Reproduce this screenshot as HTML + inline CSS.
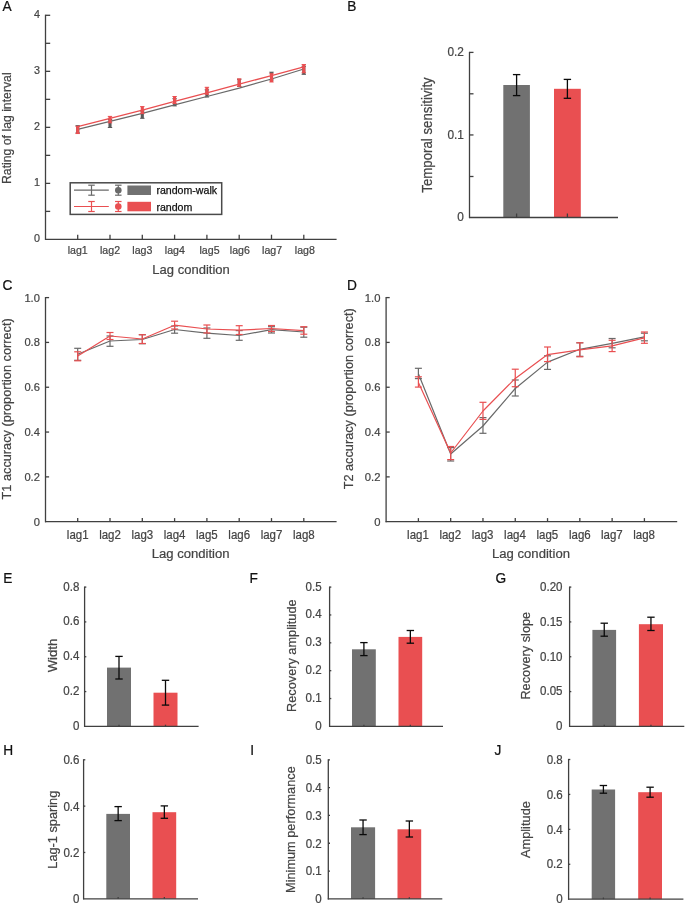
<!DOCTYPE html>
<html lang="en">
<head>
<meta charset="utf-8">
<title>Figure</title>
<style>
html,body{margin:0;padding:0;background:#fff;}
body{width:685px;height:904px;overflow:hidden;}
svg{display:block;font-family:"Liberation Sans", sans-serif;}
</style>
</head>
<body>
<svg width="685" height="904" viewBox="0 0 685 904">
<rect x="0" y="0" width="685" height="904" fill="#ffffff"/>
<text transform="translate(2.60 11.20) scale(0.96 1)" font-size="14.29" text-anchor="start" fill="#111"  stroke="#111" stroke-width="0.22">A</text>
<rect x="76.15" y="125.60" width="3.10" height="7.40" fill="#5a5a5a" stroke="none" stroke-width="1"/>
<line x1="75.50" y1="125.70" x2="79.90" y2="125.70" stroke="#5a5a5a" stroke-width="1.0" />
<line x1="75.50" y1="132.90" x2="79.90" y2="132.90" stroke="#5a5a5a" stroke-width="1.0" />
<rect x="108.45" y="119.40" width="3.10" height="8.20" fill="#5a5a5a" stroke="none" stroke-width="1"/>
<line x1="107.80" y1="119.50" x2="112.20" y2="119.50" stroke="#5a5a5a" stroke-width="1.0" />
<line x1="107.80" y1="127.50" x2="112.20" y2="127.50" stroke="#5a5a5a" stroke-width="1.0" />
<rect x="140.75" y="110.80" width="3.10" height="7.60" fill="#5a5a5a" stroke="none" stroke-width="1"/>
<line x1="140.10" y1="110.90" x2="144.50" y2="110.90" stroke="#5a5a5a" stroke-width="1.0" />
<line x1="140.10" y1="118.30" x2="144.50" y2="118.30" stroke="#5a5a5a" stroke-width="1.0" />
<rect x="173.05" y="98.60" width="3.10" height="7.40" fill="#5a5a5a" stroke="none" stroke-width="1"/>
<line x1="172.40" y1="98.70" x2="176.80" y2="98.70" stroke="#5a5a5a" stroke-width="1.0" />
<line x1="172.40" y1="105.90" x2="176.80" y2="105.90" stroke="#5a5a5a" stroke-width="1.0" />
<rect x="205.35" y="89.70" width="3.10" height="7.40" fill="#5a5a5a" stroke="none" stroke-width="1"/>
<line x1="204.70" y1="89.80" x2="209.10" y2="89.80" stroke="#5a5a5a" stroke-width="1.0" />
<line x1="204.70" y1="97.00" x2="209.10" y2="97.00" stroke="#5a5a5a" stroke-width="1.0" />
<rect x="237.65" y="79.20" width="3.10" height="7.40" fill="#5a5a5a" stroke="none" stroke-width="1"/>
<line x1="237.00" y1="79.30" x2="241.40" y2="79.30" stroke="#5a5a5a" stroke-width="1.0" />
<line x1="237.00" y1="86.50" x2="241.40" y2="86.50" stroke="#5a5a5a" stroke-width="1.0" />
<rect x="269.95" y="72.10" width="3.10" height="8.00" fill="#5a5a5a" stroke="none" stroke-width="1"/>
<line x1="269.30" y1="72.20" x2="273.70" y2="72.20" stroke="#5a5a5a" stroke-width="1.0" />
<line x1="269.30" y1="80.00" x2="273.70" y2="80.00" stroke="#5a5a5a" stroke-width="1.0" />
<rect x="302.25" y="66.20" width="3.10" height="8.20" fill="#5a5a5a" stroke="none" stroke-width="1"/>
<line x1="301.60" y1="66.30" x2="306.00" y2="66.30" stroke="#5a5a5a" stroke-width="1.0" />
<line x1="301.60" y1="74.30" x2="306.00" y2="74.30" stroke="#5a5a5a" stroke-width="1.0" />
<polyline points="77.70,129.30 110.00,121.40 142.30,113.30 174.60,104.90 206.90,96.50 239.20,88.10 271.50,79.00 303.80,69.00" fill="none" stroke="#696969" stroke-width="1.25" stroke-linejoin="round"/>
<rect x="76.15" y="126.25" width="3.10" height="7.40" fill="#e94f51" stroke="none" stroke-width="1"/>
<line x1="75.50" y1="126.35" x2="79.90" y2="126.35" stroke="#e94f51" stroke-width="1.0" />
<line x1="75.50" y1="133.55" x2="79.90" y2="133.55" stroke="#e94f51" stroke-width="1.0" />
<rect x="108.45" y="116.30" width="3.10" height="6.60" fill="#e94f51" stroke="none" stroke-width="1"/>
<line x1="107.80" y1="116.40" x2="112.20" y2="116.40" stroke="#e94f51" stroke-width="1.0" />
<line x1="107.80" y1="122.80" x2="112.20" y2="122.80" stroke="#e94f51" stroke-width="1.0" />
<rect x="140.75" y="106.50" width="3.10" height="7.20" fill="#e94f51" stroke="none" stroke-width="1"/>
<line x1="140.10" y1="106.60" x2="144.50" y2="106.60" stroke="#e94f51" stroke-width="1.0" />
<line x1="140.10" y1="113.60" x2="144.50" y2="113.60" stroke="#e94f51" stroke-width="1.0" />
<rect x="173.05" y="96.40" width="3.10" height="7.20" fill="#e94f51" stroke="none" stroke-width="1"/>
<line x1="172.40" y1="96.50" x2="176.80" y2="96.50" stroke="#e94f51" stroke-width="1.0" />
<line x1="172.40" y1="103.50" x2="176.80" y2="103.50" stroke="#e94f51" stroke-width="1.0" />
<rect x="205.35" y="87.20" width="3.10" height="7.20" fill="#e94f51" stroke="none" stroke-width="1"/>
<line x1="204.70" y1="87.30" x2="209.10" y2="87.30" stroke="#e94f51" stroke-width="1.0" />
<line x1="204.70" y1="94.30" x2="209.10" y2="94.30" stroke="#e94f51" stroke-width="1.0" />
<rect x="237.65" y="78.80" width="3.10" height="7.60" fill="#e94f51" stroke="none" stroke-width="1"/>
<line x1="237.00" y1="78.90" x2="241.40" y2="78.90" stroke="#e94f51" stroke-width="1.0" />
<line x1="237.00" y1="86.30" x2="241.40" y2="86.30" stroke="#e94f51" stroke-width="1.0" />
<rect x="269.95" y="73.65" width="3.10" height="8.40" fill="#e94f51" stroke="none" stroke-width="1"/>
<line x1="269.30" y1="73.75" x2="273.70" y2="73.75" stroke="#e94f51" stroke-width="1.0" />
<line x1="269.30" y1="81.95" x2="273.70" y2="81.95" stroke="#e94f51" stroke-width="1.0" />
<rect x="302.25" y="64.45" width="3.10" height="8.40" fill="#e94f51" stroke="none" stroke-width="1"/>
<line x1="301.60" y1="64.55" x2="306.00" y2="64.55" stroke="#e94f51" stroke-width="1.0" />
<line x1="301.60" y1="72.75" x2="306.00" y2="72.75" stroke="#e94f51" stroke-width="1.0" />
<polyline points="77.70,126.60 110.00,118.40 142.30,110.10 174.60,101.40 206.90,92.90 239.20,84.20 271.50,75.60 303.80,66.90" fill="none" stroke="#e94f51" stroke-width="1.25" stroke-linejoin="round"/>
<line x1="45.50" y1="14.70" x2="45.50" y2="240.00" stroke="#404040" stroke-width="1.3" />
<text transform="translate(39.90 242.40) scale(0.96 1)" font-size="11.22" text-anchor="end" fill="#444444"  stroke="#444444" stroke-width="0.22">0</text>
<line x1="45.50" y1="183.38" x2="50.20" y2="183.38" stroke="#404040" stroke-width="1.3" />
<text transform="translate(39.90 186.38) scale(0.96 1)" font-size="11.22" text-anchor="end" fill="#444444"  stroke="#444444" stroke-width="0.22">1</text>
<line x1="45.50" y1="127.35" x2="50.20" y2="127.35" stroke="#404040" stroke-width="1.3" />
<text transform="translate(39.90 130.35) scale(0.96 1)" font-size="11.22" text-anchor="end" fill="#444444"  stroke="#444444" stroke-width="0.22">2</text>
<line x1="45.50" y1="71.33" x2="50.20" y2="71.33" stroke="#404040" stroke-width="1.3" />
<text transform="translate(39.90 74.33) scale(0.96 1)" font-size="11.22" text-anchor="end" fill="#444444"  stroke="#444444" stroke-width="0.22">3</text>
<line x1="45.50" y1="15.30" x2="50.20" y2="15.30" stroke="#404040" stroke-width="1.3" />
<text transform="translate(39.90 18.30) scale(0.96 1)" font-size="11.22" text-anchor="end" fill="#444444"  stroke="#444444" stroke-width="0.22">4</text>
<line x1="45.50" y1="211.39" x2="50.20" y2="211.39" stroke="#404040" stroke-width="1.3" />
<line x1="45.50" y1="155.36" x2="50.20" y2="155.36" stroke="#404040" stroke-width="1.3" />
<line x1="45.50" y1="99.34" x2="50.20" y2="99.34" stroke="#404040" stroke-width="1.3" />
<line x1="45.50" y1="43.31" x2="50.20" y2="43.31" stroke="#404040" stroke-width="1.3" />
<text transform="translate(11.20 128.20) rotate(-90) scale(0.96 1)" font-size="12.76" text-anchor="middle" fill="#444444"  stroke="#444444" stroke-width="0.22">Rating of lag interval</text>
<line x1="45.00" y1="239.40" x2="336.60" y2="239.40" stroke="#404040" stroke-width="1.3" />
<line x1="77.70" y1="239.40" x2="77.70" y2="234.70" stroke="#404040" stroke-width="1.3" />
<text transform="translate(77.70 253.70) scale(0.95 1)" font-size="11.18" text-anchor="middle" fill="#444444"  stroke="#444444" stroke-width="0.22">lag1</text>
<line x1="110.00" y1="239.40" x2="110.00" y2="234.70" stroke="#404040" stroke-width="1.3" />
<text transform="translate(110.00 253.70) scale(0.95 1)" font-size="11.18" text-anchor="middle" fill="#444444"  stroke="#444444" stroke-width="0.22">lag2</text>
<line x1="142.30" y1="239.40" x2="142.30" y2="234.70" stroke="#404040" stroke-width="1.3" />
<text transform="translate(142.30 253.70) scale(0.95 1)" font-size="11.18" text-anchor="middle" fill="#444444"  stroke="#444444" stroke-width="0.22">lag3</text>
<line x1="174.60" y1="239.40" x2="174.60" y2="234.70" stroke="#404040" stroke-width="1.3" />
<text transform="translate(174.80 253.70) scale(0.95 1)" font-size="11.18" text-anchor="middle" fill="#444444"  stroke="#444444" stroke-width="0.22">lag4</text>
<line x1="206.90" y1="239.40" x2="206.90" y2="234.70" stroke="#404040" stroke-width="1.3" />
<text transform="translate(209.50 253.70) scale(0.95 1)" font-size="11.18" text-anchor="middle" fill="#444444"  stroke="#444444" stroke-width="0.22">lag5</text>
<line x1="239.20" y1="239.40" x2="239.20" y2="234.70" stroke="#404040" stroke-width="1.3" />
<text transform="translate(239.80 253.70) scale(0.95 1)" font-size="11.18" text-anchor="middle" fill="#444444"  stroke="#444444" stroke-width="0.22">lag6</text>
<line x1="271.50" y1="239.40" x2="271.50" y2="234.70" stroke="#404040" stroke-width="1.3" />
<text transform="translate(272.10 253.70) scale(0.95 1)" font-size="11.18" text-anchor="middle" fill="#444444"  stroke="#444444" stroke-width="0.22">lag7</text>
<line x1="303.80" y1="239.40" x2="303.80" y2="234.70" stroke="#404040" stroke-width="1.3" />
<text transform="translate(304.80 253.70) scale(0.95 1)" font-size="11.18" text-anchor="middle" fill="#444444"  stroke="#444444" stroke-width="0.22">lag8</text>
<text transform="translate(191.05 274.30) scale(0.96 1)" font-size="13.57" text-anchor="middle" fill="#444444"  stroke="#444444" stroke-width="0.22">Lag condition</text>
<rect x="70.20" y="182.80" width="151.50" height="31.60" fill="#fff" stroke="#4a4a4a" stroke-width="1.5"/>
<line x1="74.00" y1="190.20" x2="108.80" y2="190.20" stroke="#696969" stroke-width="1.2" />
<line x1="91.50" y1="185.20" x2="91.50" y2="195.20" stroke="#696969" stroke-width="1.2" />
<line x1="88.25" y1="185.20" x2="94.75" y2="185.20" stroke="#696969" stroke-width="1.2" />
<line x1="88.25" y1="195.20" x2="94.75" y2="195.20" stroke="#696969" stroke-width="1.2" />
<line x1="118.30" y1="185.20" x2="118.30" y2="195.20" stroke="#696969" stroke-width="1.2" />
<line x1="115.05" y1="185.20" x2="121.55" y2="185.20" stroke="#696969" stroke-width="1.2" />
<line x1="115.05" y1="195.20" x2="121.55" y2="195.20" stroke="#696969" stroke-width="1.2" />
<circle cx="118.3" cy="190.20" r="3.3" fill="#696969"/>
<rect x="127.40" y="185.50" width="23.60" height="9.50" fill="#717171" stroke="none" stroke-width="1"/>
<text transform="translate(156.40 194.30)" font-size="10.6" text-anchor="start" fill="#111" stroke="#111" stroke-width="0.25">random-walk</text>
<line x1="74.00" y1="206.50" x2="108.80" y2="206.50" stroke="#e94f51" stroke-width="1.2" />
<line x1="91.50" y1="201.50" x2="91.50" y2="211.50" stroke="#e94f51" stroke-width="1.2" />
<line x1="88.25" y1="201.50" x2="94.75" y2="201.50" stroke="#e94f51" stroke-width="1.2" />
<line x1="88.25" y1="211.50" x2="94.75" y2="211.50" stroke="#e94f51" stroke-width="1.2" />
<line x1="118.30" y1="201.50" x2="118.30" y2="211.50" stroke="#e94f51" stroke-width="1.2" />
<line x1="115.05" y1="201.50" x2="121.55" y2="201.50" stroke="#e94f51" stroke-width="1.2" />
<line x1="115.05" y1="211.50" x2="121.55" y2="211.50" stroke="#e94f51" stroke-width="1.2" />
<circle cx="118.3" cy="206.50" r="3.3" fill="#e94f51"/>
<rect x="127.40" y="201.80" width="23.60" height="9.50" fill="#e94f51" stroke="none" stroke-width="1"/>
<text transform="translate(156.40 211.00)" font-size="10.6" text-anchor="start" fill="#111" stroke="#111" stroke-width="0.25">random</text>
<text transform="translate(2.60 289.90) scale(0.96 1)" font-size="14.29" text-anchor="start" fill="#111"  stroke="#111" stroke-width="0.22">C</text>
<polyline points="77.70,354.30 110.00,341.00 142.30,339.50 174.60,329.50 206.90,333.20 239.20,335.50 271.50,329.70 303.80,332.00" fill="none" stroke="#696969" stroke-width="1.2" stroke-linejoin="round"/>
<line x1="77.70" y1="348.30" x2="77.70" y2="360.30" stroke="#696969" stroke-width="1.2" />
<line x1="74.20" y1="348.30" x2="81.20" y2="348.30" stroke="#696969" stroke-width="1.2" />
<line x1="74.20" y1="360.30" x2="81.20" y2="360.30" stroke="#696969" stroke-width="1.2" />
<line x1="110.00" y1="336.00" x2="110.00" y2="346.30" stroke="#696969" stroke-width="1.2" />
<line x1="106.50" y1="336.00" x2="113.50" y2="336.00" stroke="#696969" stroke-width="1.2" />
<line x1="106.50" y1="346.30" x2="113.50" y2="346.30" stroke="#696969" stroke-width="1.2" />
<line x1="142.30" y1="334.70" x2="142.30" y2="343.70" stroke="#696969" stroke-width="1.2" />
<line x1="138.80" y1="334.70" x2="145.80" y2="334.70" stroke="#696969" stroke-width="1.2" />
<line x1="138.80" y1="343.70" x2="145.80" y2="343.70" stroke="#696969" stroke-width="1.2" />
<line x1="174.60" y1="326.00" x2="174.60" y2="333.20" stroke="#696969" stroke-width="1.2" />
<line x1="171.10" y1="326.00" x2="178.10" y2="326.00" stroke="#696969" stroke-width="1.2" />
<line x1="171.10" y1="333.20" x2="178.10" y2="333.20" stroke="#696969" stroke-width="1.2" />
<line x1="206.90" y1="328.00" x2="206.90" y2="338.30" stroke="#696969" stroke-width="1.2" />
<line x1="203.40" y1="328.00" x2="210.40" y2="328.00" stroke="#696969" stroke-width="1.2" />
<line x1="203.40" y1="338.30" x2="210.40" y2="338.30" stroke="#696969" stroke-width="1.2" />
<line x1="239.20" y1="330.60" x2="239.20" y2="340.30" stroke="#696969" stroke-width="1.2" />
<line x1="235.70" y1="330.60" x2="242.70" y2="330.60" stroke="#696969" stroke-width="1.2" />
<line x1="235.70" y1="340.30" x2="242.70" y2="340.30" stroke="#696969" stroke-width="1.2" />
<line x1="271.50" y1="326.70" x2="271.50" y2="333.00" stroke="#696969" stroke-width="1.2" />
<line x1="268.00" y1="326.70" x2="275.00" y2="326.70" stroke="#696969" stroke-width="1.2" />
<line x1="268.00" y1="333.00" x2="275.00" y2="333.00" stroke="#696969" stroke-width="1.2" />
<line x1="303.80" y1="327.20" x2="303.80" y2="337.20" stroke="#696969" stroke-width="1.2" />
<line x1="300.30" y1="327.20" x2="307.30" y2="327.20" stroke="#696969" stroke-width="1.2" />
<line x1="300.30" y1="337.20" x2="307.30" y2="337.20" stroke="#696969" stroke-width="1.2" />
<polyline points="77.70,356.10 110.00,336.00 142.30,339.00 174.60,325.20 206.90,329.00 239.20,330.20 271.50,328.50 303.80,330.70" fill="none" stroke="#e94f51" stroke-width="1.2" stroke-linejoin="round"/>
<line x1="77.70" y1="351.80" x2="77.70" y2="360.80" stroke="#e94f51" stroke-width="1.2" />
<line x1="74.20" y1="351.80" x2="81.20" y2="351.80" stroke="#e94f51" stroke-width="1.2" />
<line x1="74.20" y1="360.80" x2="81.20" y2="360.80" stroke="#e94f51" stroke-width="1.2" />
<line x1="110.00" y1="332.50" x2="110.00" y2="339.50" stroke="#e94f51" stroke-width="1.2" />
<line x1="106.50" y1="332.50" x2="113.50" y2="332.50" stroke="#e94f51" stroke-width="1.2" />
<line x1="106.50" y1="339.50" x2="113.50" y2="339.50" stroke="#e94f51" stroke-width="1.2" />
<line x1="142.30" y1="334.70" x2="142.30" y2="343.50" stroke="#e94f51" stroke-width="1.2" />
<line x1="138.80" y1="334.70" x2="145.80" y2="334.70" stroke="#e94f51" stroke-width="1.2" />
<line x1="138.80" y1="343.50" x2="145.80" y2="343.50" stroke="#e94f51" stroke-width="1.2" />
<line x1="174.60" y1="321.20" x2="174.60" y2="329.00" stroke="#e94f51" stroke-width="1.2" />
<line x1="171.10" y1="321.20" x2="178.10" y2="321.20" stroke="#e94f51" stroke-width="1.2" />
<line x1="171.10" y1="329.00" x2="178.10" y2="329.00" stroke="#e94f51" stroke-width="1.2" />
<line x1="206.90" y1="325.00" x2="206.90" y2="333.00" stroke="#e94f51" stroke-width="1.2" />
<line x1="203.40" y1="325.00" x2="210.40" y2="325.00" stroke="#e94f51" stroke-width="1.2" />
<line x1="203.40" y1="333.00" x2="210.40" y2="333.00" stroke="#e94f51" stroke-width="1.2" />
<line x1="239.20" y1="325.70" x2="239.20" y2="334.50" stroke="#e94f51" stroke-width="1.2" />
<line x1="235.70" y1="325.70" x2="242.70" y2="325.70" stroke="#e94f51" stroke-width="1.2" />
<line x1="235.70" y1="334.50" x2="242.70" y2="334.50" stroke="#e94f51" stroke-width="1.2" />
<line x1="271.50" y1="325.50" x2="271.50" y2="331.50" stroke="#e94f51" stroke-width="1.2" />
<line x1="268.00" y1="325.50" x2="275.00" y2="325.50" stroke="#e94f51" stroke-width="1.2" />
<line x1="268.00" y1="331.50" x2="275.00" y2="331.50" stroke="#e94f51" stroke-width="1.2" />
<line x1="303.80" y1="326.70" x2="303.80" y2="334.20" stroke="#e94f51" stroke-width="1.2" />
<line x1="300.30" y1="326.70" x2="307.30" y2="326.70" stroke="#e94f51" stroke-width="1.2" />
<line x1="300.30" y1="334.20" x2="307.30" y2="334.20" stroke="#e94f51" stroke-width="1.2" />
<line x1="45.50" y1="297.00" x2="45.50" y2="522.30" stroke="#404040" stroke-width="1.3" />
<text transform="translate(39.90 525.70) scale(0.96 1)" font-size="11.63" text-anchor="end" fill="#444444"  stroke="#444444" stroke-width="0.22">0</text>
<line x1="45.50" y1="476.88" x2="49.10" y2="476.88" stroke="#404040" stroke-width="1.3" />
<text transform="translate(39.90 480.88) scale(0.96 1)" font-size="11.63" text-anchor="end" fill="#444444"  stroke="#444444" stroke-width="0.22">0.2</text>
<line x1="45.50" y1="432.06" x2="49.10" y2="432.06" stroke="#404040" stroke-width="1.3" />
<text transform="translate(39.90 436.06) scale(0.96 1)" font-size="11.63" text-anchor="end" fill="#444444"  stroke="#444444" stroke-width="0.22">0.4</text>
<line x1="45.50" y1="387.24" x2="49.10" y2="387.24" stroke="#404040" stroke-width="1.3" />
<text transform="translate(39.90 391.24) scale(0.96 1)" font-size="11.63" text-anchor="end" fill="#444444"  stroke="#444444" stroke-width="0.22">0.6</text>
<line x1="45.50" y1="342.42" x2="49.10" y2="342.42" stroke="#404040" stroke-width="1.3" />
<text transform="translate(39.90 346.42) scale(0.96 1)" font-size="11.63" text-anchor="end" fill="#444444"  stroke="#444444" stroke-width="0.22">0.8</text>
<line x1="45.50" y1="297.60" x2="49.10" y2="297.60" stroke="#404040" stroke-width="1.3" />
<text transform="translate(39.90 301.60) scale(0.96 1)" font-size="11.63" text-anchor="end" fill="#444444"  stroke="#444444" stroke-width="0.22">1.0</text>
<text transform="translate(10.90 408.90) rotate(-90) scale(0.96 1)" font-size="13.27" text-anchor="middle" fill="#444444"  stroke="#444444" stroke-width="0.22">T1 accuracy (proportion correct)</text>
<line x1="45.00" y1="521.70" x2="336.60" y2="521.70" stroke="#404040" stroke-width="1.3" />
<line x1="77.70" y1="521.70" x2="77.70" y2="518.10" stroke="#404040" stroke-width="1.3" />
<text transform="translate(77.70 538.80) scale(0.95 1)" font-size="12.1" text-anchor="middle" fill="#444444"  stroke="#444444" stroke-width="0.22">lag1</text>
<line x1="110.00" y1="521.70" x2="110.00" y2="518.10" stroke="#404040" stroke-width="1.3" />
<text transform="translate(110.00 538.80) scale(0.95 1)" font-size="12.1" text-anchor="middle" fill="#444444"  stroke="#444444" stroke-width="0.22">lag2</text>
<line x1="142.30" y1="521.70" x2="142.30" y2="518.10" stroke="#404040" stroke-width="1.3" />
<text transform="translate(142.30 538.80) scale(0.95 1)" font-size="12.1" text-anchor="middle" fill="#444444"  stroke="#444444" stroke-width="0.22">lag3</text>
<line x1="174.60" y1="521.70" x2="174.60" y2="518.10" stroke="#404040" stroke-width="1.3" />
<text transform="translate(174.60 538.80) scale(0.95 1)" font-size="12.1" text-anchor="middle" fill="#444444"  stroke="#444444" stroke-width="0.22">lag4</text>
<line x1="206.90" y1="521.70" x2="206.90" y2="518.10" stroke="#404040" stroke-width="1.3" />
<text transform="translate(206.90 538.80) scale(0.95 1)" font-size="12.1" text-anchor="middle" fill="#444444"  stroke="#444444" stroke-width="0.22">lag5</text>
<line x1="239.20" y1="521.70" x2="239.20" y2="518.10" stroke="#404040" stroke-width="1.3" />
<text transform="translate(239.20 538.80) scale(0.95 1)" font-size="12.1" text-anchor="middle" fill="#444444"  stroke="#444444" stroke-width="0.22">lag6</text>
<line x1="271.50" y1="521.70" x2="271.50" y2="518.10" stroke="#404040" stroke-width="1.3" />
<text transform="translate(271.50 538.80) scale(0.95 1)" font-size="12.1" text-anchor="middle" fill="#444444"  stroke="#444444" stroke-width="0.22">lag7</text>
<line x1="303.80" y1="521.70" x2="303.80" y2="518.10" stroke="#404040" stroke-width="1.3" />
<text transform="translate(303.80 538.80) scale(0.95 1)" font-size="12.1" text-anchor="middle" fill="#444444"  stroke="#444444" stroke-width="0.22">lag8</text>
<text transform="translate(190.60 558.20) scale(0.96 1)" font-size="13.67" text-anchor="middle" fill="#444444"  stroke="#444444" stroke-width="0.22">Lag condition</text>
<text transform="translate(347.00 289.90) scale(0.96 1)" font-size="14.29" text-anchor="start" fill="#111"  stroke="#111" stroke-width="0.22">D</text>
<polyline points="418.39,373.80 450.68,454.00 482.97,426.00 515.26,388.50 547.54,362.10 579.83,349.30 612.12,343.30 644.41,336.80" fill="none" stroke="#696969" stroke-width="1.2" stroke-linejoin="round"/>
<line x1="418.39" y1="368.30" x2="418.39" y2="378.60" stroke="#696969" stroke-width="1.2" />
<line x1="414.89" y1="368.30" x2="421.89" y2="368.30" stroke="#696969" stroke-width="1.2" />
<line x1="414.89" y1="378.60" x2="421.89" y2="378.60" stroke="#696969" stroke-width="1.2" />
<line x1="450.68" y1="447.60" x2="450.68" y2="461.00" stroke="#696969" stroke-width="1.2" />
<line x1="447.18" y1="447.60" x2="454.18" y2="447.60" stroke="#696969" stroke-width="1.2" />
<line x1="447.18" y1="461.00" x2="454.18" y2="461.00" stroke="#696969" stroke-width="1.2" />
<line x1="482.97" y1="417.60" x2="482.97" y2="433.30" stroke="#696969" stroke-width="1.2" />
<line x1="479.47" y1="417.60" x2="486.47" y2="417.60" stroke="#696969" stroke-width="1.2" />
<line x1="479.47" y1="433.30" x2="486.47" y2="433.30" stroke="#696969" stroke-width="1.2" />
<line x1="515.26" y1="380.00" x2="515.26" y2="396.00" stroke="#696969" stroke-width="1.2" />
<line x1="511.76" y1="380.00" x2="518.76" y2="380.00" stroke="#696969" stroke-width="1.2" />
<line x1="511.76" y1="396.00" x2="518.76" y2="396.00" stroke="#696969" stroke-width="1.2" />
<line x1="547.54" y1="355.80" x2="547.54" y2="369.40" stroke="#696969" stroke-width="1.2" />
<line x1="544.04" y1="355.80" x2="551.04" y2="355.80" stroke="#696969" stroke-width="1.2" />
<line x1="544.04" y1="369.40" x2="551.04" y2="369.40" stroke="#696969" stroke-width="1.2" />
<line x1="579.83" y1="342.80" x2="579.83" y2="356.30" stroke="#696969" stroke-width="1.2" />
<line x1="576.33" y1="342.80" x2="583.33" y2="342.80" stroke="#696969" stroke-width="1.2" />
<line x1="576.33" y1="356.30" x2="583.33" y2="356.30" stroke="#696969" stroke-width="1.2" />
<line x1="612.12" y1="338.50" x2="612.12" y2="347.80" stroke="#696969" stroke-width="1.2" />
<line x1="608.62" y1="338.50" x2="615.62" y2="338.50" stroke="#696969" stroke-width="1.2" />
<line x1="608.62" y1="347.80" x2="615.62" y2="347.80" stroke="#696969" stroke-width="1.2" />
<line x1="644.41" y1="333.20" x2="644.41" y2="340.80" stroke="#696969" stroke-width="1.2" />
<line x1="640.91" y1="333.20" x2="647.91" y2="333.20" stroke="#696969" stroke-width="1.2" />
<line x1="640.91" y1="340.80" x2="647.91" y2="340.80" stroke="#696969" stroke-width="1.2" />
<polyline points="418.39,382.60 450.68,453.00 482.97,411.00 515.26,378.40 547.54,354.60 579.83,349.80 612.12,345.80 644.41,337.80" fill="none" stroke="#e94f51" stroke-width="1.2" stroke-linejoin="round"/>
<line x1="418.39" y1="376.80" x2="418.39" y2="387.10" stroke="#e94f51" stroke-width="1.2" />
<line x1="414.89" y1="376.80" x2="421.89" y2="376.80" stroke="#e94f51" stroke-width="1.2" />
<line x1="414.89" y1="387.10" x2="421.89" y2="387.10" stroke="#e94f51" stroke-width="1.2" />
<line x1="450.68" y1="446.50" x2="450.68" y2="459.60" stroke="#e94f51" stroke-width="1.2" />
<line x1="447.18" y1="446.50" x2="454.18" y2="446.50" stroke="#e94f51" stroke-width="1.2" />
<line x1="447.18" y1="459.60" x2="454.18" y2="459.60" stroke="#e94f51" stroke-width="1.2" />
<line x1="482.97" y1="402.30" x2="482.97" y2="419.40" stroke="#e94f51" stroke-width="1.2" />
<line x1="479.47" y1="402.30" x2="486.47" y2="402.30" stroke="#e94f51" stroke-width="1.2" />
<line x1="479.47" y1="419.40" x2="486.47" y2="419.40" stroke="#e94f51" stroke-width="1.2" />
<line x1="515.26" y1="369.20" x2="515.26" y2="386.70" stroke="#e94f51" stroke-width="1.2" />
<line x1="511.76" y1="369.20" x2="518.76" y2="369.20" stroke="#e94f51" stroke-width="1.2" />
<line x1="511.76" y1="386.70" x2="518.76" y2="386.70" stroke="#e94f51" stroke-width="1.2" />
<line x1="547.54" y1="347.00" x2="547.54" y2="361.60" stroke="#e94f51" stroke-width="1.2" />
<line x1="544.04" y1="347.00" x2="551.04" y2="347.00" stroke="#e94f51" stroke-width="1.2" />
<line x1="544.04" y1="361.60" x2="551.04" y2="361.60" stroke="#e94f51" stroke-width="1.2" />
<line x1="579.83" y1="342.80" x2="579.83" y2="356.80" stroke="#e94f51" stroke-width="1.2" />
<line x1="576.33" y1="342.80" x2="583.33" y2="342.80" stroke="#e94f51" stroke-width="1.2" />
<line x1="576.33" y1="356.80" x2="583.33" y2="356.80" stroke="#e94f51" stroke-width="1.2" />
<line x1="612.12" y1="340.30" x2="612.12" y2="351.60" stroke="#e94f51" stroke-width="1.2" />
<line x1="608.62" y1="340.30" x2="615.62" y2="340.30" stroke="#e94f51" stroke-width="1.2" />
<line x1="608.62" y1="351.60" x2="615.62" y2="351.60" stroke="#e94f51" stroke-width="1.2" />
<line x1="644.41" y1="332.00" x2="644.41" y2="343.30" stroke="#e94f51" stroke-width="1.2" />
<line x1="640.91" y1="332.00" x2="647.91" y2="332.00" stroke="#e94f51" stroke-width="1.2" />
<line x1="640.91" y1="343.30" x2="647.91" y2="343.30" stroke="#e94f51" stroke-width="1.2" />
<line x1="386.10" y1="297.00" x2="386.10" y2="522.30" stroke="#404040" stroke-width="1.3" />
<text transform="translate(380.50 525.70) scale(0.96 1)" font-size="11.73" text-anchor="end" fill="#444444"  stroke="#444444" stroke-width="0.22">0</text>
<line x1="386.10" y1="476.88" x2="389.70" y2="476.88" stroke="#404040" stroke-width="1.3" />
<text transform="translate(380.50 480.88) scale(0.96 1)" font-size="11.73" text-anchor="end" fill="#444444"  stroke="#444444" stroke-width="0.22">0.2</text>
<line x1="386.10" y1="432.06" x2="389.70" y2="432.06" stroke="#404040" stroke-width="1.3" />
<text transform="translate(380.50 436.06) scale(0.96 1)" font-size="11.73" text-anchor="end" fill="#444444"  stroke="#444444" stroke-width="0.22">0.4</text>
<line x1="386.10" y1="387.24" x2="389.70" y2="387.24" stroke="#404040" stroke-width="1.3" />
<text transform="translate(380.50 391.24) scale(0.96 1)" font-size="11.73" text-anchor="end" fill="#444444"  stroke="#444444" stroke-width="0.22">0.6</text>
<line x1="386.10" y1="342.42" x2="389.70" y2="342.42" stroke="#404040" stroke-width="1.3" />
<text transform="translate(380.50 346.42) scale(0.96 1)" font-size="11.73" text-anchor="end" fill="#444444"  stroke="#444444" stroke-width="0.22">0.8</text>
<line x1="386.10" y1="297.60" x2="389.70" y2="297.60" stroke="#404040" stroke-width="1.3" />
<text transform="translate(380.50 301.60) scale(0.96 1)" font-size="11.73" text-anchor="end" fill="#444444"  stroke="#444444" stroke-width="0.22">1.0</text>
<text transform="translate(353.00 398.80) rotate(-90) scale(0.96 1)" font-size="13.27" text-anchor="middle" fill="#444444"  stroke="#444444" stroke-width="0.22">T2 accuracy (proportion correct)</text>
<line x1="385.60" y1="521.70" x2="677.20" y2="521.70" stroke="#404040" stroke-width="1.3" />
<line x1="418.39" y1="521.70" x2="418.39" y2="518.10" stroke="#404040" stroke-width="1.3" />
<text transform="translate(417.99 538.80) scale(0.95 1)" font-size="12.1" text-anchor="middle" fill="#444444"  stroke="#444444" stroke-width="0.22">lag1</text>
<line x1="450.68" y1="521.70" x2="450.68" y2="518.10" stroke="#404040" stroke-width="1.3" />
<text transform="translate(450.28 538.80) scale(0.95 1)" font-size="12.1" text-anchor="middle" fill="#444444"  stroke="#444444" stroke-width="0.22">lag2</text>
<line x1="482.97" y1="521.70" x2="482.97" y2="518.10" stroke="#404040" stroke-width="1.3" />
<text transform="translate(482.57 538.80) scale(0.95 1)" font-size="12.1" text-anchor="middle" fill="#444444"  stroke="#444444" stroke-width="0.22">lag3</text>
<line x1="515.26" y1="521.70" x2="515.26" y2="518.10" stroke="#404040" stroke-width="1.3" />
<text transform="translate(514.96 538.80) scale(0.95 1)" font-size="12.1" text-anchor="middle" fill="#444444"  stroke="#444444" stroke-width="0.22">lag4</text>
<line x1="547.54" y1="521.70" x2="547.54" y2="518.10" stroke="#404040" stroke-width="1.3" />
<text transform="translate(547.34 538.80) scale(0.95 1)" font-size="12.1" text-anchor="middle" fill="#444444"  stroke="#444444" stroke-width="0.22">lag5</text>
<line x1="579.83" y1="521.70" x2="579.83" y2="518.10" stroke="#404040" stroke-width="1.3" />
<text transform="translate(579.83 538.80) scale(0.95 1)" font-size="12.1" text-anchor="middle" fill="#444444"  stroke="#444444" stroke-width="0.22">lag6</text>
<line x1="612.12" y1="521.70" x2="612.12" y2="518.10" stroke="#404040" stroke-width="1.3" />
<text transform="translate(611.82 538.80) scale(0.95 1)" font-size="12.1" text-anchor="middle" fill="#444444"  stroke="#444444" stroke-width="0.22">lag7</text>
<line x1="644.41" y1="521.70" x2="644.41" y2="518.10" stroke="#404040" stroke-width="1.3" />
<text transform="translate(644.11 538.80) scale(0.95 1)" font-size="12.1" text-anchor="middle" fill="#444444"  stroke="#444444" stroke-width="0.22">lag8</text>
<text transform="translate(531.00 558.20) scale(0.96 1)" font-size="13.67" text-anchor="middle" fill="#444444"  stroke="#444444" stroke-width="0.22">Lag condition</text>
<text transform="translate(347.30 11.20) scale(0.96 1)" font-size="14.29" text-anchor="start" fill="#111"  stroke="#111" stroke-width="0.22">B</text>
<rect x="503.30" y="85.00" width="26.60" height="132.50" fill="#717171" stroke="none" stroke-width="1"/>
<rect x="554.00" y="88.80" width="26.80" height="128.70" fill="#e94f51" stroke="none" stroke-width="1"/>
<line x1="469.50" y1="51.80" x2="469.50" y2="218.10" stroke="#404040" stroke-width="1.3" />
<text transform="translate(463.90 221.40) scale(0.96 1)" font-size="12.35" text-anchor="end" fill="#444444"  stroke="#444444" stroke-width="0.22">0</text>
<line x1="469.50" y1="134.95" x2="473.50" y2="134.95" stroke="#404040" stroke-width="1.3" />
<text transform="translate(463.90 138.85) scale(0.96 1)" font-size="12.35" text-anchor="end" fill="#444444"  stroke="#444444" stroke-width="0.22">0.1</text>
<line x1="469.50" y1="52.40" x2="473.50" y2="52.40" stroke="#404040" stroke-width="1.3" />
<text transform="translate(463.90 56.30) scale(0.96 1)" font-size="12.35" text-anchor="end" fill="#444444"  stroke="#444444" stroke-width="0.22">0.2</text>
<line x1="469.50" y1="93.80" x2="473.50" y2="93.80" stroke="#404040" stroke-width="1.3" />
<line x1="469.50" y1="176.50" x2="473.50" y2="176.50" stroke="#404040" stroke-width="1.3" />
<text transform="translate(432.40 134.95) rotate(-90) scale(0.96 1)" font-size="13.78" text-anchor="middle" fill="#444444"  stroke="#444444" stroke-width="0.22">Temporal sensitivity</text>
<line x1="469.00" y1="217.50" x2="618.00" y2="217.50" stroke="#404040" stroke-width="1.3" />
<line x1="516.60" y1="217.50" x2="516.60" y2="213.50" stroke="#404040" stroke-width="1.3" />
<line x1="567.40" y1="217.50" x2="567.40" y2="213.50" stroke="#404040" stroke-width="1.3" />
<line x1="516.60" y1="74.60" x2="516.60" y2="95.60" stroke="#0a0a0a" stroke-width="1.3" />
<line x1="512.90" y1="74.60" x2="520.30" y2="74.60" stroke="#0a0a0a" stroke-width="1.3" />
<line x1="512.90" y1="95.60" x2="520.30" y2="95.60" stroke="#0a0a0a" stroke-width="1.3" />
<line x1="567.40" y1="79.40" x2="567.40" y2="98.30" stroke="#0a0a0a" stroke-width="1.3" />
<line x1="563.70" y1="79.40" x2="571.10" y2="79.40" stroke="#0a0a0a" stroke-width="1.3" />
<line x1="563.70" y1="98.30" x2="571.10" y2="98.30" stroke="#0a0a0a" stroke-width="1.3" />
<text transform="translate(3.30 582.70) scale(0.96 1)" font-size="14.29" text-anchor="start" fill="#111"  stroke="#111" stroke-width="0.22">E</text>
<rect x="107.00" y="667.60" width="24.00" height="58.80" fill="#717171" stroke="none" stroke-width="1"/>
<rect x="153.50" y="692.70" width="24.00" height="33.70" fill="#e94f51" stroke="none" stroke-width="1"/>
<line x1="84.60" y1="586.50" x2="84.60" y2="727.00" stroke="#404040" stroke-width="1.3" />
<text transform="translate(79.40 729.90) scale(0.96 1)" font-size="12.04" text-anchor="end" fill="#444444"  stroke="#444444" stroke-width="0.22">0</text>
<line x1="84.60" y1="691.58" x2="86.30" y2="691.58" stroke="#404040" stroke-width="1.3" />
<text transform="translate(79.40 695.08) scale(0.96 1)" font-size="12.04" text-anchor="end" fill="#444444"  stroke="#444444" stroke-width="0.22">0.2</text>
<line x1="84.60" y1="656.75" x2="86.30" y2="656.75" stroke="#404040" stroke-width="1.3" />
<text transform="translate(79.40 660.25) scale(0.96 1)" font-size="12.04" text-anchor="end" fill="#444444"  stroke="#444444" stroke-width="0.22">0.4</text>
<line x1="84.60" y1="621.92" x2="86.30" y2="621.92" stroke="#404040" stroke-width="1.3" />
<text transform="translate(79.40 625.42) scale(0.96 1)" font-size="12.04" text-anchor="end" fill="#444444"  stroke="#444444" stroke-width="0.22">0.6</text>
<line x1="84.60" y1="587.10" x2="86.30" y2="587.10" stroke="#404040" stroke-width="1.3" />
<text transform="translate(79.40 590.60) scale(0.96 1)" font-size="12.04" text-anchor="end" fill="#444444"  stroke="#444444" stroke-width="0.22">0.8</text>
<text transform="translate(57.00 655.50) rotate(-90) scale(0.96 1)" font-size="13.67" text-anchor="middle" fill="#444444"  stroke="#444444" stroke-width="0.22">Width</text>
<line x1="84.10" y1="726.40" x2="198.60" y2="726.40" stroke="#404040" stroke-width="1.3" />
<line x1="119.00" y1="726.40" x2="119.00" y2="724.70" stroke="#404040" stroke-width="1.3" />
<line x1="165.50" y1="726.40" x2="165.50" y2="724.70" stroke="#404040" stroke-width="1.3" />
<line x1="119.00" y1="656.40" x2="119.00" y2="679.00" stroke="#0a0a0a" stroke-width="1.3" />
<line x1="115.30" y1="656.40" x2="122.70" y2="656.40" stroke="#0a0a0a" stroke-width="1.3" />
<line x1="115.30" y1="679.00" x2="122.70" y2="679.00" stroke="#0a0a0a" stroke-width="1.3" />
<line x1="165.50" y1="680.30" x2="165.50" y2="705.10" stroke="#0a0a0a" stroke-width="1.3" />
<line x1="161.80" y1="680.30" x2="169.20" y2="680.30" stroke="#0a0a0a" stroke-width="1.3" />
<line x1="161.80" y1="705.10" x2="169.20" y2="705.10" stroke="#0a0a0a" stroke-width="1.3" />
<text transform="translate(249.50 582.70) scale(0.96 1)" font-size="14.29" text-anchor="start" fill="#111"  stroke="#111" stroke-width="0.22">F</text>
<rect x="352.00" y="649.30" width="23.80" height="77.10" fill="#717171" stroke="none" stroke-width="1"/>
<rect x="398.50" y="636.90" width="23.70" height="89.50" fill="#e94f51" stroke="none" stroke-width="1"/>
<line x1="329.60" y1="586.50" x2="329.60" y2="727.00" stroke="#404040" stroke-width="1.3" />
<text transform="translate(321.60 729.90) scale(0.96 1)" font-size="12.04" text-anchor="end" fill="#444444"  stroke="#444444" stroke-width="0.22">0</text>
<line x1="329.60" y1="698.54" x2="331.30" y2="698.54" stroke="#404040" stroke-width="1.3" />
<text transform="translate(321.60 702.04) scale(0.96 1)" font-size="12.04" text-anchor="end" fill="#444444"  stroke="#444444" stroke-width="0.22">0.1</text>
<line x1="329.60" y1="670.68" x2="331.30" y2="670.68" stroke="#404040" stroke-width="1.3" />
<text transform="translate(321.60 674.18) scale(0.96 1)" font-size="12.04" text-anchor="end" fill="#444444"  stroke="#444444" stroke-width="0.22">0.2</text>
<line x1="329.60" y1="642.82" x2="331.30" y2="642.82" stroke="#404040" stroke-width="1.3" />
<text transform="translate(321.60 646.32) scale(0.96 1)" font-size="12.04" text-anchor="end" fill="#444444"  stroke="#444444" stroke-width="0.22">0.3</text>
<line x1="329.60" y1="614.96" x2="331.30" y2="614.96" stroke="#404040" stroke-width="1.3" />
<text transform="translate(321.60 618.46) scale(0.96 1)" font-size="12.04" text-anchor="end" fill="#444444"  stroke="#444444" stroke-width="0.22">0.4</text>
<line x1="329.60" y1="587.10" x2="331.30" y2="587.10" stroke="#404040" stroke-width="1.3" />
<text transform="translate(321.60 590.60) scale(0.96 1)" font-size="12.04" text-anchor="end" fill="#444444"  stroke="#444444" stroke-width="0.22">0.5</text>
<text transform="translate(296.00 655.70) rotate(-90) scale(0.96 1)" font-size="13.27" text-anchor="middle" fill="#444444"  stroke="#444444" stroke-width="0.22">Recovery amplitude</text>
<line x1="329.10" y1="726.40" x2="443.00" y2="726.40" stroke="#404040" stroke-width="1.3" />
<line x1="363.90" y1="726.40" x2="363.90" y2="724.70" stroke="#404040" stroke-width="1.3" />
<line x1="410.35" y1="726.40" x2="410.35" y2="724.70" stroke="#404040" stroke-width="1.3" />
<line x1="363.90" y1="642.60" x2="363.90" y2="655.60" stroke="#0a0a0a" stroke-width="1.3" />
<line x1="360.20" y1="642.60" x2="367.60" y2="642.60" stroke="#0a0a0a" stroke-width="1.3" />
<line x1="360.20" y1="655.60" x2="367.60" y2="655.60" stroke="#0a0a0a" stroke-width="1.3" />
<line x1="410.35" y1="630.50" x2="410.35" y2="643.20" stroke="#0a0a0a" stroke-width="1.3" />
<line x1="406.65" y1="630.50" x2="414.05" y2="630.50" stroke="#0a0a0a" stroke-width="1.3" />
<line x1="406.65" y1="643.20" x2="414.05" y2="643.20" stroke="#0a0a0a" stroke-width="1.3" />
<text transform="translate(495.50 582.70) scale(0.96 1)" font-size="14.29" text-anchor="start" fill="#111"  stroke="#111" stroke-width="0.22">G</text>
<rect x="592.40" y="629.90" width="23.70" height="96.50" fill="#717171" stroke="none" stroke-width="1"/>
<rect x="638.90" y="624.20" width="24.10" height="102.20" fill="#e94f51" stroke="none" stroke-width="1"/>
<line x1="569.60" y1="586.50" x2="569.60" y2="727.00" stroke="#404040" stroke-width="1.3" />
<text transform="translate(562.50 730.30) scale(0.96 1)" font-size="12.04" text-anchor="end" fill="#444444"  stroke="#444444" stroke-width="0.22">0</text>
<line x1="569.60" y1="691.58" x2="571.30" y2="691.58" stroke="#404040" stroke-width="1.3" />
<text transform="translate(562.50 695.48) scale(0.96 1)" font-size="12.04" text-anchor="end" fill="#444444"  stroke="#444444" stroke-width="0.22">0.05</text>
<line x1="569.60" y1="656.75" x2="571.30" y2="656.75" stroke="#404040" stroke-width="1.3" />
<text transform="translate(562.50 660.65) scale(0.96 1)" font-size="12.04" text-anchor="end" fill="#444444"  stroke="#444444" stroke-width="0.22">0.10</text>
<line x1="569.60" y1="621.92" x2="571.30" y2="621.92" stroke="#404040" stroke-width="1.3" />
<text transform="translate(562.50 625.82) scale(0.96 1)" font-size="12.04" text-anchor="end" fill="#444444"  stroke="#444444" stroke-width="0.22">0.15</text>
<line x1="569.60" y1="587.10" x2="571.30" y2="587.10" stroke="#404040" stroke-width="1.3" />
<text transform="translate(562.50 591.00) scale(0.96 1)" font-size="12.04" text-anchor="end" fill="#444444"  stroke="#444444" stroke-width="0.22">0.20</text>
<text transform="translate(530.30 655.70) rotate(-90) scale(0.96 1)" font-size="13.27" text-anchor="middle" fill="#444444"  stroke="#444444" stroke-width="0.22">Recovery slope</text>
<line x1="569.10" y1="726.40" x2="684.30" y2="726.40" stroke="#404040" stroke-width="1.3" />
<line x1="604.25" y1="726.40" x2="604.25" y2="724.70" stroke="#404040" stroke-width="1.3" />
<line x1="650.95" y1="726.40" x2="650.95" y2="724.70" stroke="#404040" stroke-width="1.3" />
<line x1="604.25" y1="623.20" x2="604.25" y2="636.20" stroke="#0a0a0a" stroke-width="1.3" />
<line x1="600.55" y1="623.20" x2="607.95" y2="623.20" stroke="#0a0a0a" stroke-width="1.3" />
<line x1="600.55" y1="636.20" x2="607.95" y2="636.20" stroke="#0a0a0a" stroke-width="1.3" />
<line x1="650.95" y1="617.20" x2="650.95" y2="630.50" stroke="#0a0a0a" stroke-width="1.3" />
<line x1="647.25" y1="617.20" x2="654.65" y2="617.20" stroke="#0a0a0a" stroke-width="1.3" />
<line x1="647.25" y1="630.50" x2="654.65" y2="630.50" stroke="#0a0a0a" stroke-width="1.3" />
<text transform="translate(3.30 755.00) scale(0.96 1)" font-size="14.29" text-anchor="start" fill="#111"  stroke="#111" stroke-width="0.22">H</text>
<rect x="106.30" y="813.90" width="23.70" height="84.90" fill="#717171" stroke="none" stroke-width="1"/>
<rect x="152.50" y="812.20" width="23.70" height="86.60" fill="#e94f51" stroke="none" stroke-width="1"/>
<line x1="83.60" y1="759.20" x2="83.60" y2="899.40" stroke="#404040" stroke-width="1.3" />
<text transform="translate(79.50 903.20) scale(0.96 1)" font-size="12.04" text-anchor="end" fill="#444444"  stroke="#444444" stroke-width="0.22">0</text>
<line x1="83.60" y1="852.47" x2="85.30" y2="852.47" stroke="#404040" stroke-width="1.3" />
<text transform="translate(79.50 856.87) scale(0.96 1)" font-size="12.04" text-anchor="end" fill="#444444"  stroke="#444444" stroke-width="0.22">0.2</text>
<line x1="83.60" y1="806.13" x2="85.30" y2="806.13" stroke="#404040" stroke-width="1.3" />
<text transform="translate(79.50 810.53) scale(0.96 1)" font-size="12.04" text-anchor="end" fill="#444444"  stroke="#444444" stroke-width="0.22">0.4</text>
<line x1="83.60" y1="759.80" x2="85.30" y2="759.80" stroke="#404040" stroke-width="1.3" />
<text transform="translate(79.50 764.20) scale(0.96 1)" font-size="12.04" text-anchor="end" fill="#444444"  stroke="#444444" stroke-width="0.22">0.6</text>
<text transform="translate(56.60 829.70) rotate(-90) scale(0.96 1)" font-size="13.27" text-anchor="middle" fill="#444444"  stroke="#444444" stroke-width="0.22">Lag-1 sparing</text>
<line x1="83.10" y1="898.80" x2="198.00" y2="898.80" stroke="#404040" stroke-width="1.3" />
<line x1="118.15" y1="898.80" x2="118.15" y2="897.10" stroke="#404040" stroke-width="1.3" />
<line x1="164.35" y1="898.80" x2="164.35" y2="897.10" stroke="#404040" stroke-width="1.3" />
<line x1="118.15" y1="806.60" x2="118.15" y2="820.60" stroke="#0a0a0a" stroke-width="1.3" />
<line x1="114.45" y1="806.60" x2="121.85" y2="806.60" stroke="#0a0a0a" stroke-width="1.3" />
<line x1="114.45" y1="820.60" x2="121.85" y2="820.60" stroke="#0a0a0a" stroke-width="1.3" />
<line x1="164.35" y1="805.90" x2="164.35" y2="818.30" stroke="#0a0a0a" stroke-width="1.3" />
<line x1="160.65" y1="805.90" x2="168.05" y2="805.90" stroke="#0a0a0a" stroke-width="1.3" />
<line x1="160.65" y1="818.30" x2="168.05" y2="818.30" stroke="#0a0a0a" stroke-width="1.3" />
<text transform="translate(250.20 755.00) scale(0.96 1)" font-size="14.29" text-anchor="start" fill="#111"  stroke="#111" stroke-width="0.22">I</text>
<rect x="351.00" y="827.30" width="24.10" height="71.60" fill="#717171" stroke="none" stroke-width="1"/>
<rect x="397.50" y="829.30" width="23.70" height="69.60" fill="#e94f51" stroke="none" stroke-width="1"/>
<line x1="328.30" y1="759.20" x2="328.30" y2="899.50" stroke="#404040" stroke-width="1.3" />
<text transform="translate(321.70 903.30) scale(0.96 1)" font-size="12.04" text-anchor="end" fill="#444444"  stroke="#444444" stroke-width="0.22">0</text>
<line x1="328.30" y1="871.08" x2="330.00" y2="871.08" stroke="#404040" stroke-width="1.3" />
<text transform="translate(321.70 875.48) scale(0.96 1)" font-size="12.04" text-anchor="end" fill="#444444"  stroke="#444444" stroke-width="0.22">0.1</text>
<line x1="328.30" y1="843.26" x2="330.00" y2="843.26" stroke="#404040" stroke-width="1.3" />
<text transform="translate(321.70 847.66) scale(0.96 1)" font-size="12.04" text-anchor="end" fill="#444444"  stroke="#444444" stroke-width="0.22">0.2</text>
<line x1="328.30" y1="815.44" x2="330.00" y2="815.44" stroke="#404040" stroke-width="1.3" />
<text transform="translate(321.70 819.84) scale(0.96 1)" font-size="12.04" text-anchor="end" fill="#444444"  stroke="#444444" stroke-width="0.22">0.3</text>
<line x1="328.30" y1="787.62" x2="330.00" y2="787.62" stroke="#404040" stroke-width="1.3" />
<text transform="translate(321.70 792.02) scale(0.96 1)" font-size="12.04" text-anchor="end" fill="#444444"  stroke="#444444" stroke-width="0.22">0.4</text>
<line x1="328.30" y1="759.80" x2="330.00" y2="759.80" stroke="#404040" stroke-width="1.3" />
<text transform="translate(321.70 764.20) scale(0.96 1)" font-size="12.04" text-anchor="end" fill="#444444"  stroke="#444444" stroke-width="0.22">0.5</text>
<text transform="translate(295.40 829.60) rotate(-90) scale(0.96 1)" font-size="13.27" text-anchor="middle" fill="#444444"  stroke="#444444" stroke-width="0.22">Minimum performance</text>
<line x1="327.80" y1="898.90" x2="442.30" y2="898.90" stroke="#404040" stroke-width="1.3" />
<line x1="363.05" y1="898.90" x2="363.05" y2="897.20" stroke="#404040" stroke-width="1.3" />
<line x1="409.35" y1="898.90" x2="409.35" y2="897.20" stroke="#404040" stroke-width="1.3" />
<line x1="363.05" y1="820.00" x2="363.05" y2="834.60" stroke="#0a0a0a" stroke-width="1.3" />
<line x1="359.35" y1="820.00" x2="366.75" y2="820.00" stroke="#0a0a0a" stroke-width="1.3" />
<line x1="359.35" y1="834.60" x2="366.75" y2="834.60" stroke="#0a0a0a" stroke-width="1.3" />
<line x1="409.35" y1="821.00" x2="409.35" y2="837.00" stroke="#0a0a0a" stroke-width="1.3" />
<line x1="405.65" y1="821.00" x2="413.05" y2="821.00" stroke="#0a0a0a" stroke-width="1.3" />
<line x1="405.65" y1="837.00" x2="413.05" y2="837.00" stroke="#0a0a0a" stroke-width="1.3" />
<text transform="translate(494.60 755.00) scale(0.96 1)" font-size="14.29" text-anchor="start" fill="#111"  stroke="#111" stroke-width="0.22">J</text>
<rect x="591.70" y="789.50" width="23.40" height="109.70" fill="#717171" stroke="none" stroke-width="1"/>
<rect x="638.20" y="792.20" width="23.80" height="107.00" fill="#e94f51" stroke="none" stroke-width="1"/>
<line x1="568.60" y1="758.90" x2="568.60" y2="899.80" stroke="#404040" stroke-width="1.3" />
<text transform="translate(562.70 903.40) scale(0.96 1)" font-size="12.04" text-anchor="end" fill="#444444"  stroke="#444444" stroke-width="0.22">0</text>
<line x1="568.60" y1="864.28" x2="570.30" y2="864.28" stroke="#404040" stroke-width="1.3" />
<text transform="translate(562.70 868.48) scale(0.96 1)" font-size="12.04" text-anchor="end" fill="#444444"  stroke="#444444" stroke-width="0.22">0.2</text>
<line x1="568.60" y1="829.35" x2="570.30" y2="829.35" stroke="#404040" stroke-width="1.3" />
<text transform="translate(562.70 833.55) scale(0.96 1)" font-size="12.04" text-anchor="end" fill="#444444"  stroke="#444444" stroke-width="0.22">0.4</text>
<line x1="568.60" y1="794.42" x2="570.30" y2="794.42" stroke="#404040" stroke-width="1.3" />
<text transform="translate(562.70 798.62) scale(0.96 1)" font-size="12.04" text-anchor="end" fill="#444444"  stroke="#444444" stroke-width="0.22">0.6</text>
<line x1="568.60" y1="759.50" x2="570.30" y2="759.50" stroke="#404040" stroke-width="1.3" />
<text transform="translate(562.70 763.70) scale(0.96 1)" font-size="12.04" text-anchor="end" fill="#444444"  stroke="#444444" stroke-width="0.22">0.8</text>
<text transform="translate(530.40 829.60) rotate(-90) scale(0.96 1)" font-size="13.37" text-anchor="middle" fill="#444444"  stroke="#444444" stroke-width="0.22">Amplitude</text>
<line x1="568.10" y1="899.20" x2="683.40" y2="899.20" stroke="#404040" stroke-width="1.3" />
<line x1="603.40" y1="899.20" x2="603.40" y2="897.50" stroke="#404040" stroke-width="1.3" />
<line x1="650.10" y1="899.20" x2="650.10" y2="897.50" stroke="#404040" stroke-width="1.3" />
<line x1="603.40" y1="785.50" x2="603.40" y2="793.20" stroke="#0a0a0a" stroke-width="1.3" />
<line x1="599.70" y1="785.50" x2="607.10" y2="785.50" stroke="#0a0a0a" stroke-width="1.3" />
<line x1="599.70" y1="793.20" x2="607.10" y2="793.20" stroke="#0a0a0a" stroke-width="1.3" />
<line x1="650.10" y1="787.20" x2="650.10" y2="797.20" stroke="#0a0a0a" stroke-width="1.3" />
<line x1="646.40" y1="787.20" x2="653.80" y2="787.20" stroke="#0a0a0a" stroke-width="1.3" />
<line x1="646.40" y1="797.20" x2="653.80" y2="797.20" stroke="#0a0a0a" stroke-width="1.3" />
</svg>
</body>
</html>
